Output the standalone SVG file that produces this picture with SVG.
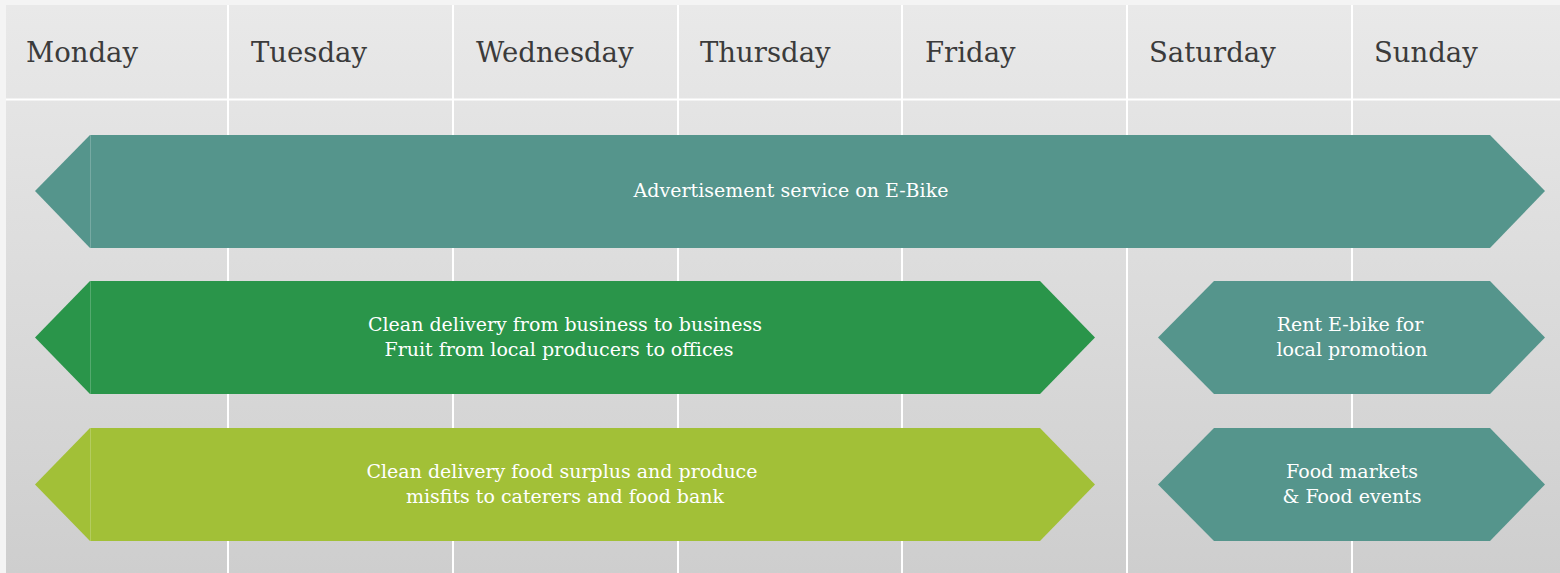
<svg xmlns="http://www.w3.org/2000/svg" width="1560" height="573" viewBox="0 0 1560 573">
<style>
.day{font-family:"DejaVu Serif","Liberation Serif",serif;font-size:27.5px;fill:#3b3b3b}
.lbl{font-family:"DejaVu Serif","Liberation Serif",serif;font-size:19px;fill:#ffffff;text-anchor:middle}
.grid{stroke:#ffffff;stroke-width:2}
.teal{fill:#55958c}
.green{fill:#2a954a}
.lime{fill:#a2c037}
.seam{stroke:#ffffff;stroke-opacity:0.2;stroke-width:1}
</style>
<defs>
<linearGradient id="bg" x1="0" y1="0" x2="0" y2="1">
<stop offset="0" stop-color="#e9e9e9"/>
<stop offset="1" stop-color="#cecece"/>
</linearGradient>
</defs>
<rect x="0" y="0" width="1560" height="573" fill="#f4f4f4"/>
<rect x="6" y="5" width="1554" height="568" fill="url(#bg)"/>
<g id="grid">
<line class="grid" x1="6" y1="99.5" x2="1560" y2="99.5"/>
<line class="grid" x1="228" y1="5" x2="228" y2="573"/>
<line class="grid" x1="453" y1="5" x2="453" y2="573"/>
<line class="grid" x1="678" y1="5" x2="678" y2="573"/>
<line class="grid" x1="902" y1="5" x2="902" y2="573"/>
<line class="grid" x1="1127" y1="5" x2="1127" y2="573"/>
<line class="grid" x1="1352" y1="5" x2="1352" y2="573"/>
</g>
<g id="days">
<text class="day" x="26" y="62">Monday</text>
<text class="day" x="251" y="62">Tuesday</text>
<text class="day" x="476" y="62">Wednesday</text>
<text class="day" x="700" y="62">Thursday</text>
<text class="day" x="925" y="62">Friday</text>
<text class="day" x="1149" y="62">Saturday</text>
<text class="day" x="1374" y="62">Sunday</text>
</g>
<g id="connectors"></g>
<g id="advertisement">
<polygon class="teal" points="35,191 90,135 1490,135 1545,191 1490,248 90,248"/>
<line class="seam" x1="90.5" y1="135" x2="90.5" y2="248"/>
<text class="lbl" x="791" y="197">Advertisement service on E-Bike</text>
</g>
<g id="b2b">
<polygon class="green" points="35,337.5 90,281 1040,281 1095,337.5 1040,394 90,394"/>
<line class="seam" x1="90.5" y1="281" x2="90.5" y2="394"/>
<text class="lbl" x="565" y="331">Clean delivery from business to business</text>
<text class="lbl" x="559" y="356">Fruit from local producers to offices</text>
</g>
<g id="surplus">
<polygon class="lime" points="35,484.5 90,428 1040,428 1095,484.5 1040,541 90,541"/>
<line class="seam" x1="90.5" y1="428" x2="90.5" y2="541"/>
<text class="lbl" x="562" y="478">Clean delivery food surplus and produce</text>
<text class="lbl" x="565" y="503">misfits to caterers and food bank</text>
</g>
<g id="rent">
<polygon class="teal" points="1158,337.5 1214,281 1490,281 1545,337.5 1490,394 1214,394"/>
<text class="lbl" x="1350" y="331">Rent E-bike for</text>
<text class="lbl" x="1352" y="356">local promotion</text>
</g>
<g id="markets">
<polygon class="teal" points="1158,484.5 1214,428 1490,428 1545,484.5 1490,541 1214,541"/>
<text class="lbl" x="1352" y="478">Food markets</text>
<text class="lbl" x="1352" y="503">&amp; Food events</text>
</g>
</svg>
